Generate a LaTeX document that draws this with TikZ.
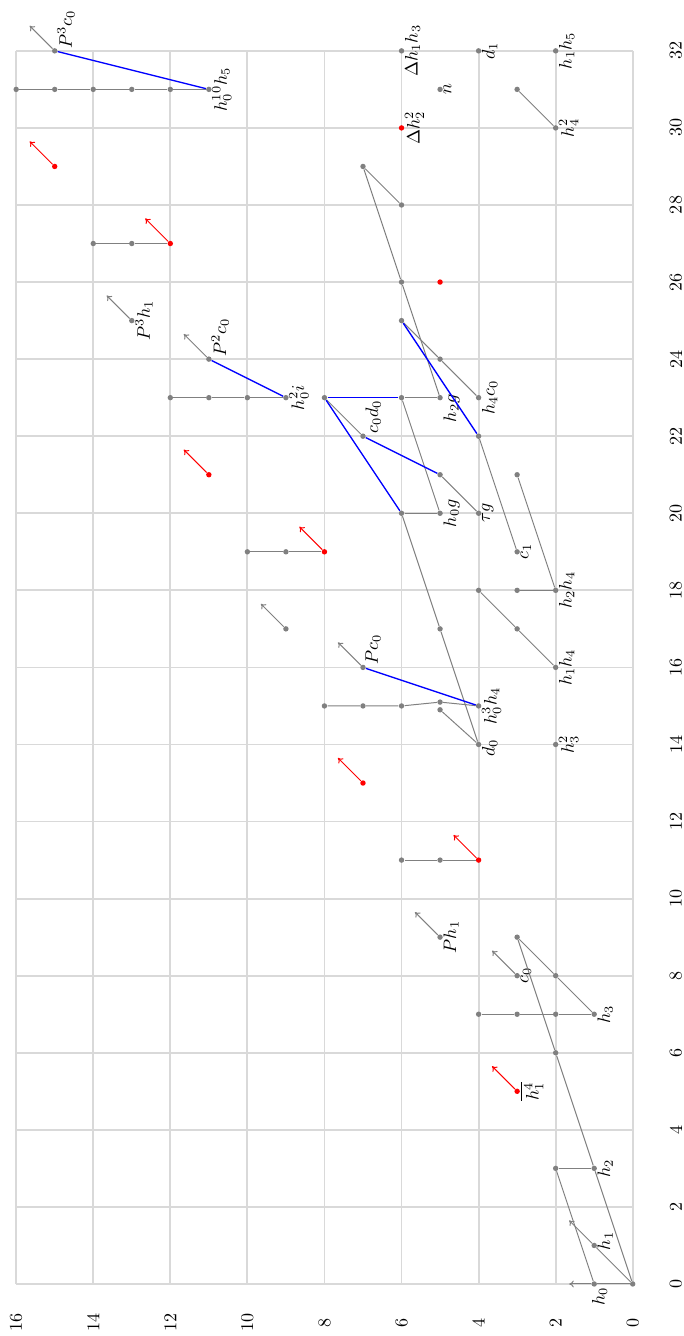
\documentclass[tikz,border=0pt]{standalone}
\usetikzlibrary{arrows.meta,positioning}

\begin{document}
\begin{tikzpicture}[x=0.75cm,y=0.75cm,rotate=90,transform shape,
    gridline/.style={black!15,line width=1pt},
    dot/.style={circle,fill=gray,inner sep=0pt,minimum size=3pt},
    rdot/.style={dot,fill=red},
    lbl/.style={inner sep=0pt},
    tick/.style={inner sep=0pt},
    ext/.style={gray,line width=0.55pt},
    hid/.style={blue,line width=0.75pt},
    tow/.style={-{To[length=2.6pt,width=3.8pt]},gray,line width=0.55pt},
    rtow/.style={tow,red}]
  \useasboundingbox (-1.35,-1.32) rectangle (33.32,16.42);
  % grid and axes
  \foreach \s in {0,2,...,32} {
    \draw[gridline] (\s,0) -- (\s,16);
    \node[tick] (s\s) at (\s,-1.12) {\s};
  }
  \foreach \f in {0,2,...,16} {
    \draw[gridline] (0,\f) -- (32,\f);
    \node[tick] (f\f) at (-1,\f) {\f};
  }
  % classes
  \foreach \s/\f in {0/0,0/1,1/1,3/1,3/2,6/2,7/1,7/2,7/3,7/4,8/2,8/3,9/3,9/5,
      11/5,11/6,14/2,14/4,15/4,15/6,15/7,15/8,16/2,16/7,17/3,17/5,17/9,
      18/2,18/3,18/4,19/3,19/9,19/10,20/4,20/5,20/6,21/3,21/5,22/4,22/7,
      23/4,23/5,23/6,23/8,23/9,23/10,23/11,23/12,24/5,24/11,25/6,25/13,
      26/6,27/13,27/14,28/6,29/7,30/2,31/3,31/5,31/11,31/12,31/13,31/14,
      31/15,31/16,32/2,32/4,32/6,32/15}
    \node[dot] (e\s-\f) at (\s,\f) {};
  \node[dot] (e15-5a) at (15.1,5) {};
  \node[dot] (e15-5b) at (14.9,5) {};
  \foreach \s/\f in {5/3,11/4,13/7,19/8,21/11,26/5,27/12,29/15,30/6}
    \node[rdot] (e\s-\f) at (\s,\f) {};
  % names
  \node[lbl,left=0pt of e0-1,yshift=-3pt] (l-h0) {$h_0$};
  \node[lbl,below=0pt of e1-1,xshift=2.5pt] (l-h1) {$h_1$};
  \node[lbl,below=0pt of e3-1] (l-h2) {$h_2$};
  \node[lbl,below=0pt of e5-3] (l-h14) {$\overline{h_1^4}$};
  \node[lbl,below=0pt of e7-1] (l-h3) {$h_3$};
  \node[lbl,below=0pt of e8-3] (l-c0) {$c_0$};
  \node[lbl,below=0pt of e9-5] (l-Ph1) {$Ph_1$};
  \node[lbl,below=0pt of e14-2] (l-h32) {$h_3^2$};
  \node[lbl,below=0pt of e14-4,xshift=-2pt] (l-d0) {$d_0$};
  \node[lbl,below=0pt of e15-4] (l-h03h4) {$h_0^3h_4$};
  \node[lbl,below right=0pt of e16-7] (l-Pc0) {$Pc_0$};
  \node[lbl,below=0pt of e16-2] (l-h1h4) {$h_1h_4$};
  \node[lbl,below=0pt of e18-2] (l-h2h4) {$h_2h_4$};
  \node[lbl,below=0pt of e19-3] (l-c1) {$c_1$};
  \node[lbl,below=0pt of e20-4] (l-tg) {$\tau g$};
  \node[lbl,below=0pt of e20-5] (l-h0g) {$h_0g$};
  \node[lbl,below right=0pt of e22-7] (l-c0d0) {$c_0d_0$};
  \node[lbl,below=0pt of e23-4] (l-h4c0) {$h_4c_0$};
  \node[lbl,below=0pt of e23-5,xshift=-6pt] (l-h2g) {$h_2g$};
  \node[lbl,below=0pt of e23-9] (l-h02i) {$h_0^2i$};
  \node[lbl,below right=0pt of e24-11] (l-P2c0) {$P^2c_0$};
  \node[lbl,below=0pt of e25-13] (l-P3h1) {$P^3h_1$};
  \node[lbl,below=0pt of e30-2] (l-h42) {$h_4^2$};
  \node[lbl,below=0pt of e30-6] (l-Dh22) {$\Delta h_2^2$};
  \node[lbl,below=0pt of e31-5] (l-n) {$n$};
  \node[lbl,below=0pt of e31-11] (l-h010h5) {$h_0^{10}h_5$};
  \node[lbl,below=0pt of e32-2] (l-h1h5) {$h_1h_5$};
  \node[lbl,below=0pt of e32-4] (l-d1) {$d_1$};
  \node[lbl,below=0pt of e32-6] (l-Dh1h3) {$\Delta h_1h_3$};
  \node[lbl,below right=0pt of e32-15] (l-P3c0) {$P^3c_0$};
  % products
  \draw[ext] (e0-0) -- (e0-1);
  \draw[ext] (e0-0) -- (e1-1);
  \draw[ext] (e0-0) -- (e3-1) -- (e6-2) -- (e9-3);
  \draw[ext] (e0-1) -- (e3-2);
  \draw[ext] (e3-1) -- (e3-2);
  \draw[ext] (e7-1) -- (e7-2) -- (e7-3) -- (e7-4);
  \draw[ext] (e7-1) -- (e8-2) -- (e9-3);
  \draw[ext] (e11-4) -- (e11-5) -- (e11-6);
  \draw[ext] (e14-4) -- (e15-5b);
  \draw[ext] (e14-4) -- (e17-5) -- (e20-6);
  \draw[ext] (e15-4) -- (e15-5a) -- (e15-6) -- (e15-7) -- (e15-8);
  \draw[ext] (e16-2) -- (e17-3) -- (e18-4);
  \draw[ext] (e18-2) -- (e18-3);
  \draw[ext] (e18-2) -- (e21-3);
  \draw[ext] (e19-3) -- (e22-4);
  \draw[ext] (e19-8) -- (e19-9) -- (e19-10);
  \draw[ext] (e20-4) -- (e21-5);
  \draw[ext] (e20-5) -- (e20-6);
  \draw[ext] (e20-5) -- (e23-6);
  \draw[ext] (e22-7) -- (e23-8);
  \draw[ext] (e23-4) -- (e24-5) -- (e25-6);
  \draw[ext] (e23-5) -- (e23-6);
  \draw[ext] (e23-5) -- (e26-6) -- (e29-7);
  \draw[ext] (e28-6) -- (e29-7);
  \draw[ext] (e23-9) -- (e23-10) -- (e23-11) -- (e23-12);
  \draw[ext] (e27-12) -- (e27-13) -- (e27-14);
  \draw[ext] (e30-2) -- (e31-3);
  \draw[ext] (e31-11) -- (e31-12) -- (e31-13) -- (e31-14) -- (e31-15) -- (e31-16);
  % hidden extensions
  \draw[hid] (e15-4) -- (e16-7);
  \draw[hid] (e20-6) -- (e23-8);
  \draw[hid] (e21-5) -- (e22-7);
  \draw[hid] (e23-8) -- (e23-6);
  \draw[hid] (e22-4) -- (e25-6);
  \draw[hid] (e23-9) -- (e24-11);
  \draw[hid] (e31-11) -- (e32-15);
  % towers
  \coordinate (t0-1) at (0,1.65);
  \draw[tow] (e0-1) -- (t0-1);
  \foreach \s/\f in {1/1,8/3,9/5,16/7,17/9,24/11,25/13,32/15} {
    \coordinate (t\s-\f) at (\s+0.65,\f+0.65);
    \draw[tow] (e\s-\f) -- (t\s-\f);
  }
  \foreach \s/\f in {5/3,11/4,13/7,19/8,21/11,27/12,29/15} {
    \coordinate (t\s-\f) at (\s+0.65,\f+0.65);
    \draw[rtow] (e\s-\f) -- (t\s-\f);
  }
\end{tikzpicture}
\end{document}
